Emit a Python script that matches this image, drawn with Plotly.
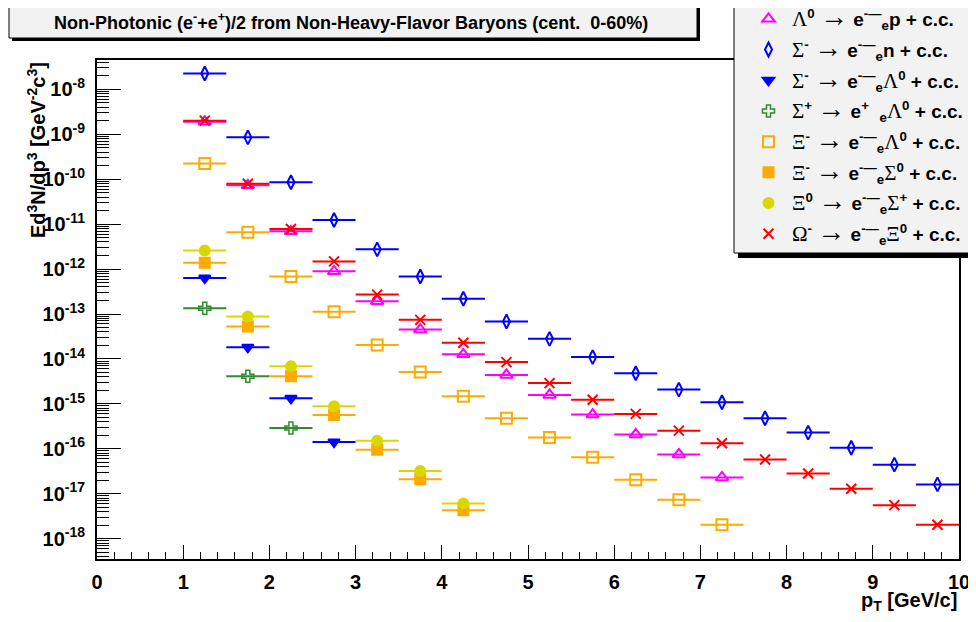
import plotly.graph_objects as go

# ---------------- data ----------------
pt_bins = [1.25, 1.75, 2.25, 2.75, 3.25, 3.75, 4.25, 4.75, 5.25, 5.75,
           6.25, 6.75, 7.25, 7.75, 8.25, 8.75, 9.25, 9.75]
half_width = 0.25

lambda0_enp = [1.9e-9, 7.3e-11, 6.9e-12, 8.9e-13, 1.93e-13, 4.5e-14, 1.27e-14,
               4.4e-15, 1.58e-15, 5.8e-16, 2.1e-16, 7.5e-17, 2.32e-17]
sigmam_enn = [2.24e-8, 8.5e-10, 8.5e-11, 1.23e-11, 2.74e-12, 6.8e-13, 2.19e-13,
              6.8e-14, 2.8e-14, 1.1e-14, 4.8e-15, 2.08e-15, 1.09e-15, 4.8e-16,
              2.3e-16, 1.06e-16, 4.45e-17, 1.62e-17]
sigmam_enl = [6.3e-13, 1.82e-14, 1.33e-15, 1.42e-16]
sigmap_enl = [1.35e-13, 4.1e-15, 2.9e-16]
xim_enl = [2.24e-10, 6.6e-12, 6.8e-13, 1.12e-13, 2.05e-14, 5.1e-15, 1.48e-15,
           4.8e-16, 1.8e-16, 6.5e-17, 2.06e-17, 7.4e-18, 2.05e-18]
xim_ens = [1.38e-12, 5.3e-14, 4.1e-15, 5.7e-16, 9.6e-17, 2.1e-17, 4.3e-18]
xi0_ens = [2.58e-12, 8.8e-14, 6.9e-15, 8.9e-16, 1.51e-16, 3.2e-17, 6.1e-18]
omega_enx = [2.0e-9, 7.9e-11, 7.8e-12, 1.48e-12, 2.7e-13, 7.4e-14, 2.3e-14,
             8.5e-15, 2.9e-15, 1.24e-15, 6.0e-16, 2.54e-16, 1.33e-16, 5.8e-17,
             2.84e-17, 1.3e-17, 5.6e-18, 2.05e-18]

y_decades = list(range(-18, -7))
x_ticks = list(range(0, 11))

G = "<span style='font-family:Liberation Serif;font-weight:normal;font-size:21px'>%s</span>"
AR = "<span style='font-family:Liberation Serif;font-weight:normal;font-size:28px'>&#8594;</span>"
names = [
    G % "&#923;" + "<sup>0</sup> " + AR + " e<sup>-&#8212;</sup><sub>e</sub>p + c.c.",
    G % "&#931;" + "<sup>-</sup> " + AR + " e<sup>-&#8212;</sup><sub>e</sub>n + c.c.",
    G % "&#931;" + "<sup>-</sup> " + AR + " e<sup>-&#8212;</sup><sub>e</sub>" + G % "&#923;" + "<sup>0</sup> + c.c.",
    G % "&#931;" + "<sup>+</sup> " + AR + " e<sup>+</sup>  <sub>e</sub>" + G % "&#923;" + "<sup>0</sup> + c.c.",
    G % "&#926;" + "<sup>-</sup> " + AR + " e<sup>-&#8212;</sup><sub>e</sub>" + G % "&#923;" + "<sup>0</sup> + c.c.",
    G % "&#926;" + "<sup>-</sup> " + AR + " e<sup>-&#8212;</sup><sub>e</sub>" + G % "&#931;" + "<sup>0</sup> + c.c.",
    G % "&#926;" + "<sup>0</sup> " + AR + " e<sup>-&#8212;</sup><sub>e</sub>" + G % "&#931;" + "<sup>+</sup> + c.c.",
    G % "&#937;" + "<sup>-</sup> " + AR + " e<sup>-&#8212;</sup><sub>e</sub>" + G % "&#926;" + "<sup>0</sup> + c.c.",
]

series = [lambda0_enp, sigmam_enn, sigmam_enl, sigmap_enl, xim_enl, xim_ens, xi0_ens, omega_enx]
colors = ["#ff00ff", "#0000ff", "#0000ff", "#2e8b2e", "#ffaa00", "#ffaa00", "#d8d800", "#ff0000"]
symbols = ["triangle-up-open", "diamond-tall-open", "triangle-down", "cross-open",
           "square-open", "square", "circle", "x-thin-open"]
msizes = [11, 10, 10, 10, 11, 10, 10, 10]

# ---------------- layout helpers ----------------
OFF = 8  # page body margin offset
W, H = 976 - OFF, 622 - OFF
L, R, T, B = 97, 959, 60, 559
PW, PH = R - L, B - T


def fx(px):
    return (px - L) / PW


def fy(py):
    return 1 - (py - T) / PH


fig = go.Figure()

for i, (vals, col, sym, ms, nm) in enumerate(zip(series, colors, symbols, msizes, names)):
    xs = pt_bins[:len(vals)]
    mline = dict(color=col, width=2)
    if sym == "cross-open":
        mline = dict(color=col, width=1.5)
    fig.add_trace(go.Scatter(
        x=xs, y=vals, mode="markers", name=nm, legendgroup="g%d" % i,
        marker=dict(symbol=sym, size=ms, color=col, line=mline),
        error_x=dict(type="constant", value=half_width, width=0, thickness=2, color=col),
    ))

minor_y = [m * 10.0 ** d for d in range(-19, -7) for m in range(2, 10)]

fig.update_layout(
    width=W, height=H,
    margin=dict(l=L - OFF, r=976 - R, t=T - OFF, b=622 - B, autoexpand=False),
    paper_bgcolor="white", plot_bgcolor="white",
    font=dict(family="Liberation Sans", color="black"),
    showlegend=True,
    legend=dict(x=fx(745), y=fy(0), xanchor="left", yanchor="top",
                bgcolor="rgba(0,0,0,0)", borderwidth=0,
                font=dict(family="Liberation Sans", size=19, weight="bold", color="black"),
                tracegroupgap=3, itemwidth=37),
    xaxis=dict(range=[0, 10], tickvals=x_ticks, ticktext=[str(v) for v in x_ticks],
               automargin=False,
               ticks="inside", ticklen=14, tickwidth=1, tickcolor="black",
               showline=True, linecolor="black", linewidth=2, mirror=True,
               showgrid=False, zeroline=False,
               tickfont=dict(size=20, weight="bold"), ticklabelstandoff=4,
               minor=dict(dtick=0.2, tick0=0, ticks="inside", ticklen=7, tickcolor="black", tickwidth=1, showgrid=False)),
    yaxis=dict(type="log", range=[-18.45, -7.35], automargin=False,
               tickvals=[10.0 ** d for d in y_decades],
               ticktext=["10<sup>%d</sup>" % d for d in y_decades],
               ticks="inside", ticklen=24, tickwidth=1, tickcolor="black",
               showline=True, linecolor="black", linewidth=2, mirror=True,
               showgrid=False, zeroline=False,
               tickfont=dict(size=20, weight="bold"), ticklabelstandoff=6,
               minor=dict(tickmode="array", tickvals=minor_y, ticks="inside", ticklen=12,
                          tickcolor="black", tickwidth=1, showgrid=False)),
)

shapes = [
    # title box shadow + box
    dict(type="rect", xref="paper", yref="paper", x0=fx(12), x1=fx(700), y0=fy(41), y1=fy(8),
         fillcolor="black", line=dict(width=0), layer="above"),
    dict(type="rect", xref="paper", yref="paper", x0=fx(9), x1=fx(697), y0=fy(38), y1=fy(5),
         fillcolor="#f2f2f2", line=dict(color="black", width=1), layer="above"),
    # legend box shadow + box
    dict(type="rect", xref="paper", yref="paper", x0=fx(738), x1=fx(975), y0=fy(258), y1=fy(6),
         fillcolor="black", line=dict(width=0), layer="above"),
    dict(type="rect", xref="paper", yref="paper", x0=fx(734), x1=fx(970), y0=fy(253), y1=fy(2),
         fillcolor="#f2f2f2", line=dict(color="black", width=1), layer="above"),
]
fig.update_layout(shapes=shapes)

fig.add_annotation(xref="paper", yref="paper", x=fx(351), y=fy(21), xanchor="center", yanchor="middle",
                   text="Non-Photonic (e<sup>-</sup>+e<sup>+</sup>)/2 from Non-Heavy-Flavor Baryons (cent.  0-60%)",
                   showarrow=False, font=dict(family="Liberation Sans", size=18, weight="bold"))
fig.add_annotation(xref="paper", yref="paper", x=fx(959), y=fy(601), xanchor="right", yanchor="middle",
                   text="p<sub>T</sub> [GeV/c]", showarrow=False, font=dict(size=20, weight="bold"))
fig.add_annotation(xref="paper", yref="paper", x=fx(36), y=fy(60), xanchor="center", yanchor="top",
                   textangle=-90,
                   text="Ed<sup>3</sup>N/dp<sup>3</sup> [GeV<sup>-2</sup>c<sup>3</sup>]",
                   showarrow=False, font=dict(size=20, weight="bold"))

fig.write_html("out.html")
